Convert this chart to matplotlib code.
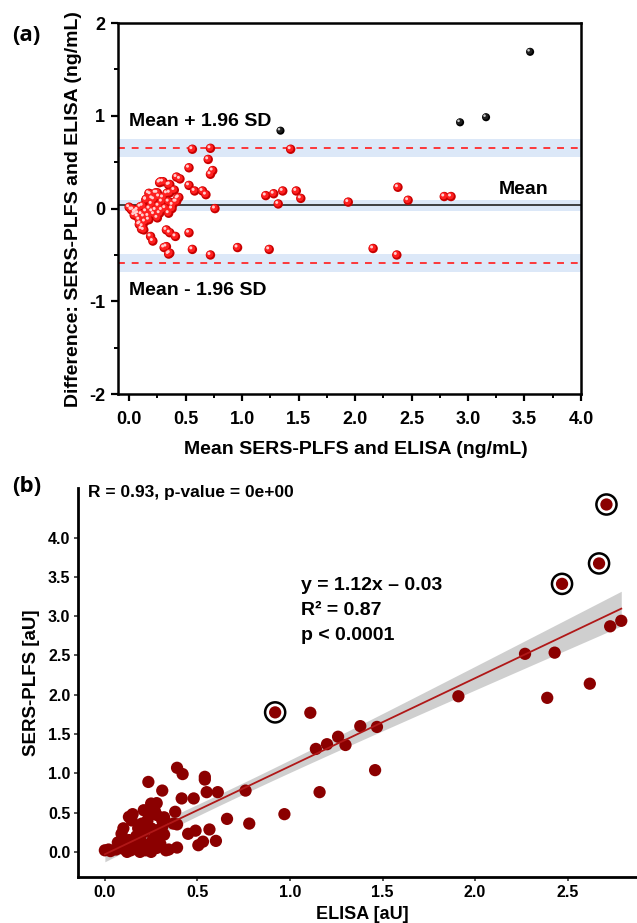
import numpy as np
import matplotlib
matplotlib.use("Agg")
import matplotlib.pyplot as plt
from matplotlib.transforms import offset_copy
from matplotlib.ticker import MultipleLocator

plt.rcParams['font.family'] = ['Liberation Sans', 'DejaVu Sans']
plt.rcParams['font.weight'] = 'bold'
plt.rcParams['axes.unicode_minus'] = False

# ---------------- Panel (a) data: Bland-Altman ----------------
ba_red_x = [0.56, 0.72, 1.43, 0.70, 0.53, 0.74, 0.72, 0.42, 0.45, 0.30, 0.27, 0.36, 0.53, 0.58,
            0.65, 0.68, 0.25, 0.36, 0.19, 0.44, 0.42, 0.15, 0.22, 1.21, 1.28, 1.36, 1.48, 1.52,
            1.32, 1.94, 2.38, 2.47, 2.79, 2.85, 0.76, 0.53, 0.33, 0.36, 0.41, 0.19, 0.21, 0.56,
            0.31, 0.33, 0.35, 0.36, 0.72, 0.96, 1.24, 2.16, 2.37,
            0.00, 0.02, 0.035, 0.05, 0.06, 0.045, 0.075, 0.09, 0.10, 0.12, 0.13, 0.10, 0.15, 0.13,
            0.175, 0.205, 0.235, 0.25, 0.15, 0.175, 0.235, 0.205, 0.265, 0.28, 0.29, 0.35, 0.335,
            0.35, 0.32, 0.385, 0.43, 0.41, 0.29, 0.35, 0.075, 0.025, 0.08, 0.11, 0.14, 0.17, 0.20,
            0.26, 0.27, 0.12, 0.18, 0.22, 0.30, 0.38, 0.40, 0.065, 0.09, 0.11]
ba_red_y = [0.64, 0.65, 0.64, 0.53, 0.44, 0.41, 0.37, 0.34, 0.32, 0.29, 0.28, 0.26, 0.25, 0.19,
            0.19, 0.15, 0.17, 0.17, 0.155, 0.12, 0.075, 0.10, 0.10, 0.14, 0.16, 0.19, 0.19, 0.11,
            0.05, 0.07, 0.23, 0.09, 0.13, 0.13, 0.00, -0.26, -0.23, -0.26, -0.30, -0.30, -0.35, -0.44,
            -0.42, -0.41, -0.49, -0.48, -0.50, -0.42, -0.44, -0.43, -0.50,
            0.015, -0.01, -0.01, -0.04, -0.03, -0.07, -0.085, -0.12, -0.16, -0.19, -0.23, 0.02, -0.03, -0.085,
            -0.12, -0.03, -0.015, -0.10, 0.095, 0.165, 0.17, 0.11, 0.13, 0.29, 0.075, 0.255, 0.165,
            0.075, 0.005, 0.04, 0.11, 0.075, -0.015, -0.05, -0.015, -0.015, -0.05, -0.06, -0.14, -0.08, 0.05,
            0.03, -0.05, 0.03, 0.00, -0.06, 0.12, 0.00, 0.20, -0.06, -0.17, -0.22]
ba_black_x = [1.34, 2.93, 3.16, 3.55]
ba_black_y = [0.84, 0.93, 0.985, 1.69]
mean_diff = 0.035
loa_upper = 0.652
loa_lower = -0.586
loa_ci = 0.10
mean_ci = 0.06

# ---------------- Panel (b) data: correlation ----------------
elisa = [1.11, 1.14, 1.20, 1.26, 1.30, 1.38, 1.47, 1.46, 1.16, 0.97, 0.78, 0.76, 0.66, 1.91,
         2.27, 2.43, 2.39, 2.62, 2.73, 2.79,
         0.39, 0.42, 0.54, 0.54, 0.235, 0.31, 0.55, 0.61, 0.415, 0.48, 0.28, 0.25, 0.38, 0.235,
         0.28, 0.15, 0.13, 0.31, 0.37, 0.39, 0.20, 0.10, 0.09, 0.565, 0.49, 0.45, 0.32, 0.53,
         0.505, 0.60, 0.345, 0.39,
         0.00, 0.02, 0.03, 0.06, 0.08, 0.10, 0.12, 0.14, 0.16, 0.18, 0.20, 0.22, 0.24, 0.26,
         0.28, 0.30, 0.33, 0.17, 0.21, 0.25, 0.29, 0.13, 0.07, 0.19, 0.25, 0.12, 0.28, 0.23,
         0.27, 0.18, 0.145, 0.31, 0.32, 0.21, 0.26]
sers = [1.77, 1.31, 1.37, 1.465, 1.36, 1.60, 1.59, 1.04, 0.76, 0.48, 0.36, 0.78, 0.42, 1.98,
        2.52, 2.535, 1.96, 2.14, 2.87, 2.94,
        1.07, 0.99, 0.955, 0.92, 0.89, 0.78, 0.76, 0.76, 0.68, 0.68, 0.62, 0.615, 0.51, 0.49,
        0.47, 0.48, 0.445, 0.40, 0.36, 0.35, 0.36, 0.30, 0.23, 0.285, 0.27, 0.23, 0.22, 0.13,
        0.085, 0.14, 0.03, 0.055,
        0.02, 0.03, 0.01, 0.03, 0.06, 0.04, 0.08, 0.02, 0.10, 0.04, 0.12, 0.02, 0.08, 0.16,
        0.05, 0.10, 0.02, 0.20, 0.25, 0.30, 0.28, 0.15, 0.12, 0.00, 0.00, 0.00, 0.20, 0.40,
        0.52, 0.30, 0.40, 0.32, 0.44, 0.53, 0.58]
circ_elisa = [0.92, 2.47, 2.67, 2.71]
circ_sers = [1.775, 3.41, 3.67, 4.42]
fit_slope = 1.12
fit_intercept = -0.03

fig = plt.figure(figsize=(6.37, 9.23), dpi=100)

# ======================= Panel (a) =======================
ax1 = fig.add_axes([0.185, 0.573, 0.727, 0.402])
ax1.set_xlim(-0.1, 4.0)
ax1.set_ylim(-2, 2)

band_col = '#DCE8F8'
ax1.axhspan(loa_upper - loa_ci, loa_upper + loa_ci, color=band_col, lw=0, zorder=0)
ax1.axhspan(loa_lower - loa_ci, loa_lower + loa_ci, color=band_col, lw=0, zorder=0)
ax1.axhspan(mean_diff - mean_ci, mean_diff + mean_ci, color=band_col, lw=0, zorder=0)
ax1.axhline(loa_upper, color='#FF2A2A', lw=1.3, ls=(0, (3.8, 3.8)), zorder=1)
ax1.axhline(loa_lower, color='#FF2A2A', lw=1.3, ls=(0, (3.8, 3.8)), zorder=1)
ax1.axhline(mean_diff, color='#222222', lw=1.2, zorder=1)


def balls(ax, x, y, s, dark, base, light):
    ax.scatter(x, y, s=s, c=dark, edgecolors='none', zorder=3)
    t1 = offset_copy(ax.transData, fig=fig, x=-0.5, y=0.5, units='points')
    ax.scatter(x, y, s=s * 0.55, c=base, edgecolors='none', zorder=4, transform=t1)
    t2 = offset_copy(ax.transData, fig=fig, x=-1.1, y=1.1, units='points')
    ax.scatter(x, y, s=s * 0.1, c=light, edgecolors='none', zorder=5, transform=t2)


balls(ax1, ba_red_x, ba_red_y, 46, '#C80000', '#FF2020', '#FFD0D0')
balls(ax1, ba_black_x, ba_black_y, 34, '#000000', '#202020', '#C8C8C8')

ax1.text(0.0, 0.94, 'Mean + 1.96 SD', fontsize=14, fontweight='bold', va='center', ha='left')
ax1.text(3.71, 0.21, 'Mean', fontsize=14, fontweight='bold', va='center', ha='right')
ax1.text(0.0, -0.88, 'Mean - 1.96 SD', fontsize=14, fontweight='bold', va='center', ha='left')

ax1.set_xticks(np.arange(0, 4.01, 0.5))
ax1.set_xticklabels([f'{v:.1f}' for v in np.arange(0, 4.01, 0.5)])
ax1.xaxis.set_minor_locator(MultipleLocator(0.25))
ax1.yaxis.set_major_locator(MultipleLocator(1))
ax1.yaxis.set_minor_locator(MultipleLocator(0.5))
ax1.tick_params(which='major', direction='out', length=5, width=1.6, labelsize=13, pad=7)
ax1.tick_params(which='minor', direction='out', length=3, width=1.4)
ax1.tick_params(axis='y', pad=4)
for sp in ax1.spines.values():
    sp.set_linewidth(1.8)
for lab in ax1.get_xticklabels() + ax1.get_yticklabels():
    lab.set_fontweight('bold')
ax1.set_xlabel('Mean SERS-PLFS and ELISA (ng/mL)', fontsize=14, fontweight='bold')
ax1.set_ylabel('Difference: SERS-PLFS and ELISA (ng/mL)', fontsize=14, fontweight='bold')
ax1.xaxis.set_label_coords(0.515, -0.127)
ax1.yaxis.set_label_coords(-0.077, 0.5)

fig.text(0.041, 0.961, '(a)', fontsize=16, fontweight='bold', ha='center', va='center',
         family=['Open Sans', 'DejaVu Sans'])

# ======================= Panel (b) =======================
ax2 = fig.add_axes([0.1225, 0.0498, 0.8775, 0.4215])
ax2.set_xlim(-0.145, 2.875)
ax2.set_ylim(-0.32, 4.63)

ex = np.array(elisa + circ_elisa)
sy = np.array(sers + circ_sers)
n = len(ex)
pred = fit_intercept + fit_slope * ex
resid = sy - pred
s_res = np.sqrt(np.sum(resid ** 2) / (n - 2))
xbar = ex.mean()
sxx = np.sum((ex - xbar) ** 2)
xl = np.linspace(ex.min(), ex.max(), 100)
yl = fit_intercept + fit_slope * xl
hw = 1.985 * s_res * np.sqrt(1.0 / n + (xl - xbar) ** 2 / sxx)
ax2.fill_between(xl, yl - hw, yl + hw, color='#A8A8A8', alpha=0.55, lw=0, zorder=2)

ax2.scatter(elisa, sers, s=78, c='#8B0000', edgecolors='none', zorder=3)
ax2.scatter(circ_elisa, circ_sers, s=78, c='#8B0000', edgecolors='none', zorder=3)
ax2.scatter(circ_elisa, circ_sers, s=210, facecolors='none', edgecolors='black', linewidths=1.8, zorder=4)
ax2.plot(xl, yl, color='#B01818', lw=1.3, zorder=5)

ax2.text(-0.09, 4.57, 'R = 0.93, p-value = 0e+00', fontsize=12.5, fontweight='bold', va='center', ha='left')
ax2.text(1.06, 3.39, 'y = 1.12x \u2013 0.03', fontsize=14, fontweight='bold', va='center', ha='left')
ax2.text(1.06, 3.07, 'R\u00b2 = 0.87', fontsize=14, fontweight='bold', va='center', ha='left')
ax2.text(1.06, 2.75, 'p < 0.0001', fontsize=14, fontweight='bold', va='center', ha='left')

ax2.spines['top'].set_visible(False)
ax2.spines['right'].set_visible(False)
ax2.spines['left'].set_linewidth(2.0)
ax2.spines['bottom'].set_linewidth(2.0)
ax2.set_xticks(np.arange(0, 2.51, 0.5))
ax2.set_xticklabels([f'{v:.1f}' for v in np.arange(0, 2.51, 0.5)])
ax2.set_yticks(np.arange(0, 4.01, 0.5))
ax2.set_yticklabels([f'{v:.1f}' for v in np.arange(0, 4.01, 0.5)])
ax2.tick_params(direction='out', length=3, width=1.2, color='#333333', labelsize=11.5, pad=2.5)
for lab in ax2.get_xticklabels() + ax2.get_yticklabels():
    lab.set_fontweight('bold')
ax2.set_xlabel('ELISA [aU]', fontsize=13, fontweight='bold')
ax2.set_ylabel('SERS-PLFS [aU]', fontsize=13.5, fontweight='bold')
ax2.xaxis.set_label_coords(0.508, -0.075)
ax2.yaxis.set_label_coords(-0.068, 0.5)

fig.text(0.042, 0.4724, '(b)', fontsize=16, fontweight='bold', ha='center', va='center',
         family=['Open Sans', 'DejaVu Sans'])

fig.savefig('out.png', dpi=100)
